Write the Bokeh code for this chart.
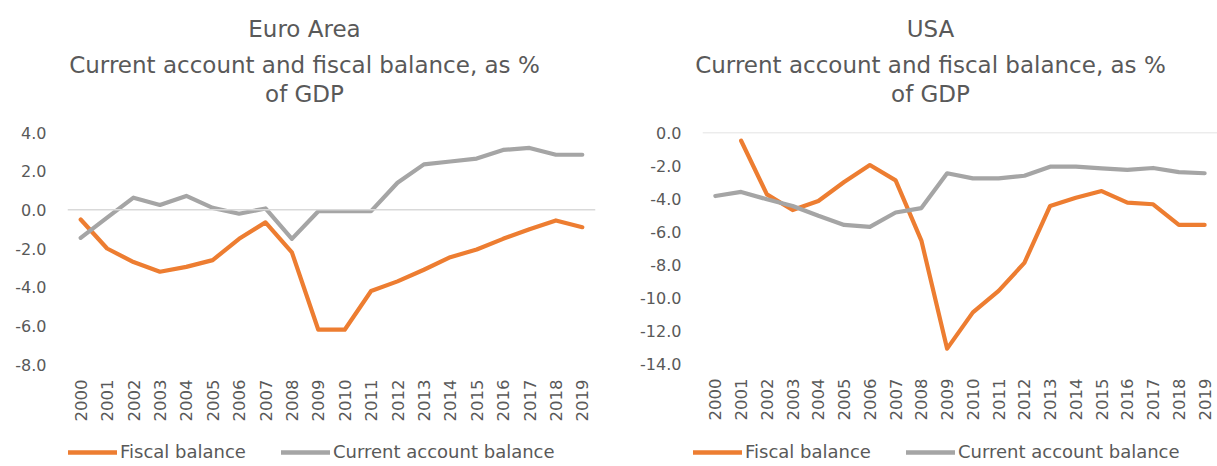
import math
from bokeh.plotting import figure
from bokeh.layouts import row, column
from bokeh.models import (Range1d, FixedTicker, PrintfTickFormatter, Span,
                          Legend, LegendItem)
from bokeh.core.properties import value
from bokeh.embed import file_html
from bokeh.resources import INLINE

years = list(range(2000, 2020))

ea_fiscal = [-0.5, -2.0, -2.7, -3.2, -2.95, -2.6, -1.5, -0.65, -2.2, -6.2,
             -6.2, -4.2, -3.7, -3.1, -2.45, -2.05, -1.5, -1.0, -0.55, -0.9]
ea_current = [-1.45, -0.4, 0.63, 0.25, 0.72, 0.1, -0.2, 0.07, -1.5, -0.07,
              -0.07, -0.07, 1.4, 2.35, 2.5, 2.65, 3.1, 3.2, 2.85, 2.85]

us_fiscal = [float("nan"), -0.5, -3.75, -4.7, -4.15, -3.0, -1.97, -2.9, -6.55, -13.1,
             -10.9, -9.6, -7.9, -4.45, -3.95, -3.55, -4.25, -4.35, -5.6, -5.6]
us_current = [-3.85, -3.6, -4.05, -4.45, -5.05, -5.6, -5.72, -4.85, -4.58, -2.47,
              -2.78, -2.78, -2.62, -2.07, -2.07, -2.17, -2.27, -2.15, -2.4, -2.47]

ea_yticks = [-8, -6, -4, -2, 0, 2, 4]
us_yticks = [-14, -12, -10, -8, -6, -4, -2, 0]

titles_ea = ["Euro Area", "Current account and fiscal balance, as %", "of GDP"]
titles_us = ["USA", "Current account and fiscal balance, as %", "of GDP"]
legend_labels = ["Fiscal balance", "Current account balance"]

ORANGE = "#ED7D31"
GRAY = "#A5A5A5"
TXT = "#595959"
FONT = "DejaVu Sans"

HEADER_H = 114
FOOTER_H = 28
LEFT_W = 608
RIGHT_W = 1217 - LEFT_W


def blank(width, height):
    f = figure(width=width, height=height, min_border=0,
               x_range=Range1d(0, width), y_range=Range1d(height, 0),
               output_backend="svg", toolbar_location=None)
    f.axis.visible = False
    f.grid.visible = False
    f.outline_line_color = None
    f.background_fill_color = "white"
    f.border_fill_color = "white"
    return f


def make_header(titles, width, cx):
    h = blank(width, HEADER_H)
    h.text(x=[cx] * 3, y=[28, 64, 93], text=titles,
           text_font=value(FONT), text_font_size=value("23px"),
           text_color=TXT, text_align="center", text_baseline="alphabetic")
    return h


def make_footer(width, lx, fiscal, current):
    # legend-only strip: the series are attached but lie outside the visible range
    f = blank(width, FOOTER_H)
    r1 = f.line(x=[v - 3000 for v in years], y=fiscal, line_color=ORANGE,
                line_width=4.5, line_cap="round")
    r2 = f.line(x=[v - 3000 for v in years], y=current, line_color=GRAY,
                line_width=4.5, line_cap="round")
    legend = Legend(items=[LegendItem(label=legend_labels[0], renderers=[r1]),
                           LegendItem(label=legend_labels[1], renderers=[r2])],
                    orientation="horizontal", location=(lx, 4),
                    padding=0, margin=0, spacing=35, glyph_width=49,
                    glyph_height=20, label_height=20, label_standoff=3,
                    label_text_font=FONT, label_text_font_size="18px",
                    label_text_color=TXT, border_line_color=None,
                    background_fill_alpha=0)
    f.add_layout(legend)
    return f


def build(fiscal, current, yticks, ylo, yhi, fw, fh, left, right, top,
          bottom):
    p = figure(frame_width=fw, frame_height=fh,
               min_border_left=left, min_border_right=right,
               min_border_top=top, min_border_bottom=bottom,
               x_range=Range1d(1999.5, 2019.5), y_range=Range1d(ylo, yhi),
               output_backend="svg", toolbar_location=None)
    p.outline_line_color = None
    p.background_fill_color = "white"
    p.border_fill_color = "white"
    p.xgrid.visible = False
    p.ygrid.visible = False

    p.add_layout(Span(location=0, dimension="width", line_color="#D9D9D9",
                      line_width=1.5))

    p.line(years, fiscal, line_color=ORANGE, line_width=4.2,
           line_cap="round", line_join="round")
    p.line(years, current, line_color=GRAY, line_width=4.2,
           line_cap="round", line_join="round")

    xa = p.xaxis[0]
    xa.ticker = FixedTicker(ticks=years)
    xa.major_label_orientation = math.pi / 2
    xa.axis_line_color = None
    xa.major_tick_line_color = None
    xa.minor_tick_line_color = None
    xa.major_tick_out = 0
    xa.major_tick_in = 0
    xa.minor_tick_out = 0
    xa.minor_tick_in = 0
    xa.major_label_standoff = 15
    xa.major_label_text_font = FONT
    xa.major_label_text_font_size = "16.5px"
    xa.major_label_text_color = TXT

    ya = p.yaxis[0]
    ya.ticker = FixedTicker(ticks=yticks)
    ya.formatter = PrintfTickFormatter(format="%.1f")
    ya.axis_line_color = None
    ya.major_tick_line_color = None
    ya.minor_tick_line_color = None
    ya.major_tick_out = 0
    ya.major_tick_in = 0
    ya.minor_tick_out = 0
    ya.minor_tick_in = 0
    ya.major_label_standoff = 21
    ya.major_label_text_font = FONT
    ya.major_label_text_font_size = "16px"
    ya.major_label_text_color = TXT
    return p


h1 = make_header(titles_ea, LEFT_W, 304)
h2 = make_header(titles_us, RIGHT_W, 322)

body_h = 466 - HEADER_H - FOOTER_H
p1 = build(ea_fiscal, ea_current, ea_yticks, -8, 4,
           fw=528, fh=232, left=67, right=LEFT_W - 67 - 528,
           top=130 - HEADER_H, bottom=body_h - (130 - HEADER_H) - 232)
p2 = build(us_fiscal, us_current, us_yticks, -14, 0,
           fw=RIGHT_W - 94, fh=231, left=94, right=0,
           top=132 - HEADER_H, bottom=body_h - (132 - HEADER_H) - 231)

f1 = make_footer(LEFT_W, 68, ea_fiscal, ea_current)
f2 = make_footer(RIGHT_W, 85, us_fiscal, us_current)

layout = column(row(h1, h2), row(p1, p2), row(f1, f2), spacing=0)
open("out.html", "w").write(file_html(layout, INLINE))
